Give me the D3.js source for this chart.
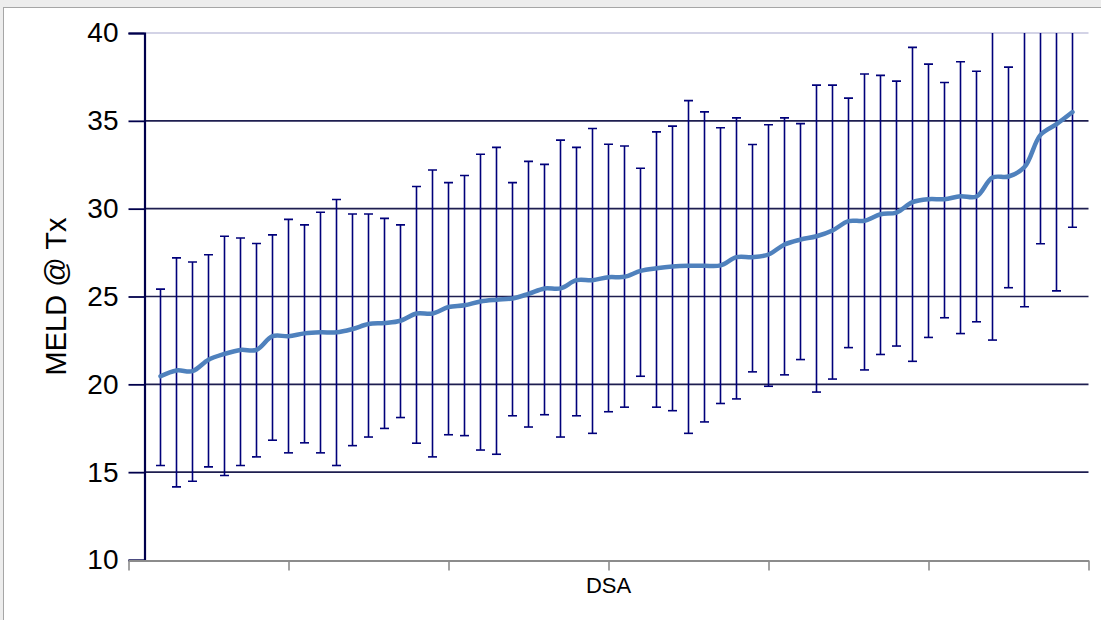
<!DOCTYPE html>
<html>
<head>
<meta charset="utf-8">
<script src="https://cdn.jsdelivr.net/npm/d3@7/dist/d3.min.js"></script>
<style>
  html, body { margin: 0; padding: 0; background: #ededed; }
  svg { display: block; }
  text { font-family: "Liberation Sans", Arial, sans-serif; fill: #000; }
</style>
</head>
<body>
<svg id="chart" width="1101" height="620"></svg>
<script>
// Mean MELD at transplant per case, ordered by mean, with upper / lower error limits
const caseIndex = d3.range(1, 59);
const meldMean = [20.46,20.79,20.75,21.40,21.73,21.96,21.96,22.74,22.74,22.90,
                  22.96,22.96,23.15,23.43,23.49,23.62,24.03,24.03,24.40,24.50,
                  24.72,24.82,24.89,25.15,25.46,25.46,25.93,25.93,26.10,26.12,
                  26.46,26.61,26.71,26.75,26.75,26.77,27.24,27.24,27.39,27.96,
                  28.24,28.43,28.76,29.29,29.31,29.68,29.78,30.37,30.54,30.54,
                  30.71,30.69,31.77,31.83,32.37,34.20,34.81,35.50];
const meldUpper = [25.42,27.20,26.96,27.38,28.43,28.33,28.02,28.51,29.39,29.08,
                   29.80,30.52,29.70,29.70,29.45,29.08,31.26,32.20,31.48,31.89,
                   33.10,33.49,31.48,32.69,32.52,33.90,33.49,34.56,33.67,33.57,
                   32.30,34.37,34.70,36.15,35.51,34.61,35.17,33.65,34.78,35.17,
                   34.84,37.03,37.03,36.29,37.67,37.59,37.26,39.18,38.23,37.18,
                   38.36,37.82,41.00,38.06,40.30,40.40,44.30,42.10];
const meldLower = [15.38,14.16,14.48,15.30,14.81,15.38,15.87,16.82,16.10,16.67,
                   16.10,15.38,16.51,17.00,17.49,18.11,16.65,15.87,17.13,17.08,
                   16.26,16.02,18.21,17.57,18.27,17.00,18.21,17.21,18.44,18.70,
                   20.46,18.70,18.50,17.21,17.86,18.91,19.17,20.71,19.89,20.54,
                   21.41,19.56,20.30,22.09,20.82,21.70,22.18,21.31,22.67,23.79,
                   22.89,23.56,22.52,25.50,24.42,28.00,25.32,28.94];
const yTicks = [10, 15, 20, 25, 30, 35, 40];
const xTicks = [-1, 9, 19, 29, 39, 49, 59];
const yTitle = "MELD @ Tx";
const xTitle = "DSA";

const rows = caseIndex.map((k, i) => ({k, mean: meldMean[i], hi: meldUpper[i], lo: meldLower[i]}));

const svg = d3.select("#chart");

// window background and white chart panel
svg.append("rect").attr("x", 0).attr("y", 0).attr("width", 1101).attr("height", 620).attr("fill", "#ededed");
svg.append("rect").attr("x", 3.5).attr("y", 7.5).attr("width", 1200).attr("height", 700)
  .attr("fill", "#fff").attr("stroke", "#a6a6a6").attr("stroke-width", 1);

const x = d3.scaleLinear().domain([-1, 59]).range([128.5, 1088.5]);
const y = d3.scaleLinear().domain([10, 40]).range([560, 33]);
const x0 = x(0);

// plot clip so bars running past 40 stop at the top edge
svg.append("defs").append("clipPath").attr("id", "plotClip")
  .append("rect").attr("x", x0).attr("y", y(40)).attr("width", x(59) - x0).attr("height", y(10) - y(40));

// horizontal gridlines
svg.append("g").selectAll("line")
  .data(yTicks.filter(v => v > 10))
  .join("line")
  .attr("x1", x0).attr("x2", x(59))
  .attr("y1", d => y(d)).attr("y2", d => y(d))
  .attr("stroke", d => d === 40 ? "#c4c4de" : "#1e1e50")
  .attr("stroke-width", 1.6);

// y axis with outward ticks and labels
const yAxis = d3.axisLeft(y).tickValues(yTicks).tickSize(x0 - x(-1)).tickPadding(10).tickFormat(d3.format("d"));
const gy = svg.append("g").attr("transform", `translate(${x0},0)`).call(yAxis);
gy.select(".domain").attr("stroke", "#00004c").attr("stroke-width", 2.2);
gy.selectAll(".tick line").attr("stroke", "#00004c").attr("stroke-width", 1.8);
gy.selectAll(".tick text").attr("font-size", 28).attr("fill", "#000")
  .attr("font-family", "Liberation Sans, Arial, sans-serif");

// x axis (category axis, unlabeled ticks)
const xAxis = d3.axisBottom(x).tickValues(xTicks).tickSize(10).tickSizeOuter(0).tickFormat("");
const gx = svg.append("g").attr("transform", `translate(0,${y(10) + 0.5})`).call(xAxis);
gx.select(".domain").attr("stroke", "#8c8c8c").attr("stroke-width", 2.2);
gx.selectAll(".tick line").attr("stroke", "#8c8c8c").attr("stroke-width", 1.6);

// error bars
const bars = svg.append("g").attr("clip-path", "url(#plotClip)")
  .attr("stroke", "#00007a").attr("stroke-width", 1.6).attr("fill", "none");
const capHalf = 4.5;
bars.selectAll("line.whisker").data(rows).join("line").attr("class", "whisker")
  .attr("x1", d => x(d.k)).attr("x2", d => x(d.k))
  .attr("y1", d => y(d.hi)).attr("y2", d => y(d.lo));
bars.selectAll("line.capHi").data(rows).join("line").attr("class", "capHi")
  .attr("x1", d => x(d.k) - capHalf).attr("x2", d => x(d.k) + capHalf)
  .attr("y1", d => y(d.hi)).attr("y2", d => y(d.hi));
bars.selectAll("line.capLo").data(rows).join("line").attr("class", "capLo")
  .attr("x1", d => x(d.k) - capHalf).attr("x2", d => x(d.k) + capHalf)
  .attr("y1", d => y(d.lo)).attr("y2", d => y(d.lo));

// smoothed mean line
const line = d3.line().x(d => x(d.k)).y(d => y(d.mean)).curve(d3.curveCatmullRom.alpha(0.5));
svg.append("path").datum(rows)
  .attr("d", line)
  .attr("fill", "none")
  .attr("stroke", "#4f81bd")
  .attr("stroke-width", 4.5)
  .attr("stroke-linejoin", "round")
  .attr("stroke-linecap", "round");

// axis titles
svg.append("text")
  .attr("transform", `translate(66,${(y(10) + y(40)) / 2}) rotate(-90)`)
  .attr("text-anchor", "middle")
  .attr("font-size", 29)
  .text(yTitle);
svg.append("text")
  .attr("x", (x(-1) + x(59)) / 2)
  .attr("y", 593)
  .attr("text-anchor", "middle")
  .attr("font-size", 22)
  .text(xTitle);
</script>
</body>
</html>
